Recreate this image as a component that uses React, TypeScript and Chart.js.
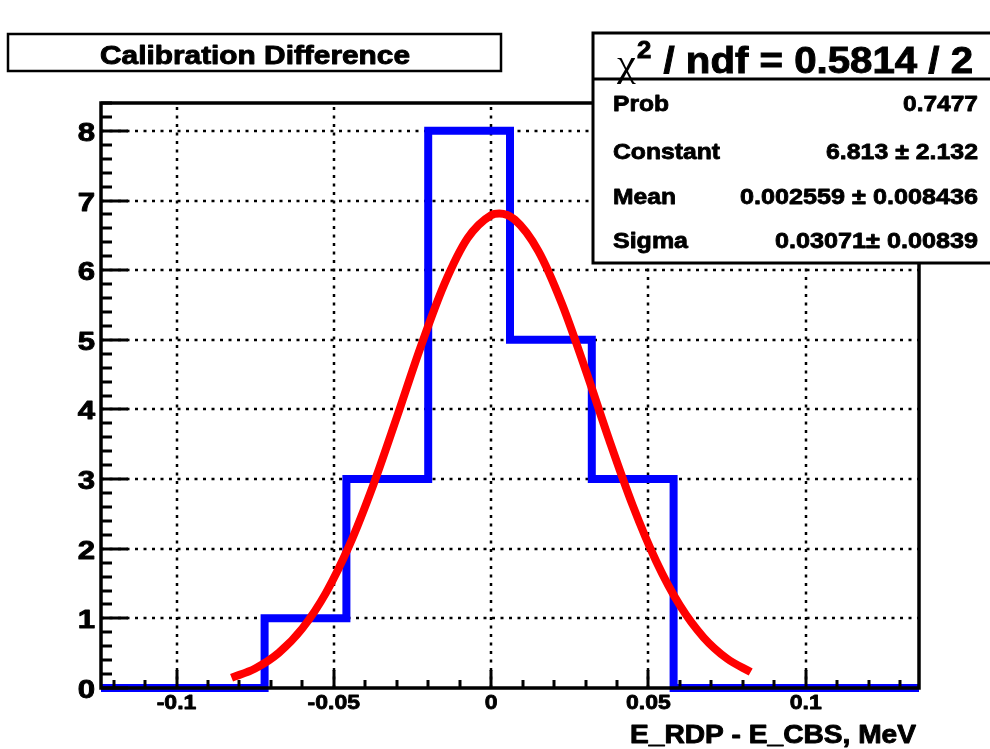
import React, { useEffect, useRef } from "react";
import { Chart, registerables } from "chart.js";

Chart.register(...registerables);

// ---- data ----
const BIN_EDGES = [-0.124, -0.098, -0.072, -0.046, -0.02, 0.006, 0.032, 0.058, 0.084, 0.11, 0.136];
const BIN_COUNTS = [0, 0, 1, 3, 8, 5, 3, 0, 0, 0];

const FIT_X = [
  -0.0825, -0.075, -0.0675, -0.06, -0.0525, -0.045, -0.0375, -0.03, -0.0225, -0.015, -0.0075, 0,
  0.0026, 0.0075, 0.015, 0.0225, 0.03, 0.0375, 0.045, 0.0525, 0.06, 0.0675, 0.075, 0.0825,
];
const FIT_Y = [
  0.147, 0.281, 0.505, 0.856, 1.366, 2.054, 2.91, 3.884, 4.884, 5.785, 6.457, 6.789,
  6.813, 6.725, 6.276, 5.518, 4.571, 3.566, 2.622, 1.816, 1.185, 0.728, 0.422, 0.23,
];

const X_MIN = -0.124;
const X_MAX = 0.136;
const Y_MIN = 0;
const Y_MAX = 8.4;

const X_TICKS = [-0.1, -0.05, 0, 0.05, 0.1];
const X_TICK_LABELS = ["-0.1", "-0.05", "0", "0.05", "0.1"];
const Y_TICKS = [0, 1, 2, 3, 4, 5, 6, 7, 8];
const Y_TICK_LABELS = ["0", "1", "2", "3", "4", "5", "6", "7", "8"];

const TITLE = "Calibration Difference";
const X_TITLE = "E_RDP - E_CBS, MeV";
const CHI2_SUP = "2";
const CHI2_REST = " / ndf = 0.5814 / 2";
const STAT_NAMES = ["Prob", "Constant", "Mean", "Sigma"];
const STAT_VALUES = ["0.7477", "6.813 \u00b1 2.132", "0.002559 \u00b1 0.008436", "0.03071\u00b1 0.00839"];

// ---- text helpers ----
const SANS = '"Liberation Sans", Arial, Helvetica, sans-serif';

function textWidth(ctx: CanvasRenderingContext2D, text: string, font: string) {
  ctx.save();
  ctx.font = font;
  const w = ctx.measureText(text).width;
  ctx.restore();
  return w;
}

function drawStretched(
  ctx: CanvasRenderingContext2D,
  text: string,
  x: number,
  baseline: number,
  size: number,
  sx: number,
  align: "left" | "center" | "right",
  weight = 0.7
) {
  const font = `bold ${size}px ${SANS}`;
  const w = textWidth(ctx, text, font) * sx;
  const left = align === "left" ? x : align === "center" ? x - w / 2 : x - w;
  ctx.save();
  ctx.font = font;
  ctx.fillStyle = "#000";
  ctx.strokeStyle = "#000";
  ctx.lineWidth = weight;
  ctx.lineJoin = "round";
  ctx.textAlign = "left";
  ctx.textBaseline = "alphabetic";
  ctx.translate(left, baseline);
  ctx.scale(sx, 1);
  ctx.fillText(text, 0, 0);
  if (weight > 0) ctx.strokeText(text, 0, 0);
  ctx.restore();
}

function fitText(
  ctx: CanvasRenderingContext2D,
  text: string,
  left: number,
  right: number,
  baseline: number,
  size: number,
  weight = 0.7
) {
  const font = `bold ${size}px ${SANS}`;
  const w = textWidth(ctx, text, font);
  const sx = (right - left) / w;
  drawStretched(ctx, text, left, baseline, size, sx, "left", weight);
}

// ---- ROOT style plugin ----
const rootPlugin = {
  id: "rootStyle",
  beforeDraw(chart: any) {
    const ctx = chart.ctx as CanvasRenderingContext2D;
    ctx.save();
    ctx.fillStyle = "#fff";
    ctx.fillRect(0, 0, chart.width, chart.height);
    ctx.restore();
  },
  beforeDatasetsDraw(chart: any) {
    const ctx = chart.ctx as CanvasRenderingContext2D;
    const { left, right, top, bottom } = chart.chartArea;
    const xs = chart.scales.x;
    const ys = chart.scales.y;
    ctx.save();
    ctx.strokeStyle = "#000";
    ctx.lineWidth = 2.5;
    ctx.setLineDash([3, 5.5]);
    for (const v of Y_TICKS) {
      if (v === 0) continue;
      const y = Math.round(ys.getPixelForValue(v));
      ctx.beginPath();
      ctx.moveTo(left, y);
      ctx.lineTo(right, y);
      ctx.stroke();
    }
    for (const v of X_TICKS) {
      const x = Math.round(xs.getPixelForValue(v));
      ctx.beginPath();
      ctx.moveTo(x, bottom);
      ctx.lineTo(x, top);
      ctx.stroke();
    }
    ctx.restore();
  },
  afterDatasetsDraw(chart: any) {
    const ctx = chart.ctx as CanvasRenderingContext2D;
    const { left, right, top, bottom } = chart.chartArea;
    const xs = chart.scales.x;
    const ys = chart.scales.y;
    ctx.save();
    ctx.strokeStyle = "#000";
    ctx.lineWidth = 3.5;
    ctx.setLineDash([]);
    // frame
    ctx.strokeRect(left, top, right - left, bottom - top);
    // y ticks (inside)
    ctx.lineWidth = 3;
    for (let i = 0; i <= 42; i++) {
      const v = i * 0.2;
      if (v > Y_MAX + 1e-9) break;
      const y = Math.round(ys.getPixelForValue(v));
      const len = i % 5 === 0 ? 27 : 11;
      ctx.beginPath();
      ctx.moveTo(left, y);
      ctx.lineTo(left + len, y);
      ctx.stroke();
    }
    // x ticks (inside)
    for (let i = -12; i <= 13; i++) {
      const v = i * 0.01;
      const x = Math.round(xs.getPixelForValue(v));
      const len = i % 5 === 0 ? 18 : 8;
      ctx.beginPath();
      ctx.moveTo(x, bottom);
      ctx.lineTo(x, bottom - len);
      ctx.stroke();
    }
    ctx.restore();

    // tick labels
    Y_TICKS.forEach((v, i) => {
      const y = ys.getPixelForValue(v);
      drawStretched(ctx, Y_TICK_LABELS[i], 95, y + 10, 26, 1.2, "right", 0.9);
    });
    X_TICKS.forEach((v, i) => {
      const x = xs.getPixelForValue(v);
      drawStretched(ctx, X_TICK_LABELS[i], x, 709, 20, 1.15, "center", 0.8);
    });
    // axis title
    fitText(ctx, X_TITLE, 630, 916, 743, 26, 0.9);
  },
  afterDraw(chart: any) {
    const ctx = chart.ctx as CanvasRenderingContext2D;
    // title box
    ctx.save();
    ctx.fillStyle = "#fff";
    ctx.fillRect(8, 34, 493, 37);
    ctx.strokeStyle = "#000";
    ctx.lineWidth = 2.5;
    ctx.strokeRect(8, 34, 493, 37);
    ctx.restore();
    fitText(ctx, TITLE, 100, 410, 64, 25, 0.9);

    // stats box
    ctx.save();
    ctx.fillStyle = "#fff";
    ctx.fillRect(593, 33, 420, 230);
    ctx.strokeStyle = "#000";
    ctx.lineWidth = 3;
    ctx.strokeRect(593, 33, 420, 230);
    ctx.beginPath();
    ctx.moveTo(593, 79);
    ctx.lineTo(1000, 79);
    ctx.stroke();
    ctx.restore();

    // chi2 header
    const chiFont = `38px "Liberation Serif", "DejaVu Serif", serif`;
    const supFont = `bold 23px ${SANS}`;
    const restFont = `bold 36px ${SANS}`;
    const wChi = textWidth(ctx, "\u03c7", chiFont);
    const wSup = textWidth(ctx, CHI2_SUP, supFont);
    const wRest = textWidth(ctx, CHI2_REST, restFont);
    const total = wChi + wSup + 2 + wRest;
    const sx = (973 - 617) / total;
    ctx.save();
    ctx.fillStyle = "#000";
    ctx.strokeStyle = "#000";
    ctx.lineWidth = 0.9;
    ctx.textBaseline = "alphabetic";
    ctx.textAlign = "left";
    ctx.translate(617, 73);
    ctx.scale(sx, 1);
    ctx.font = chiFont;
    ctx.fillText("\u03c7", 0, 3);
    ctx.font = supFont;
    ctx.fillText(CHI2_SUP, wChi + 1, -15);
    ctx.strokeText(CHI2_SUP, wChi + 1, -15);
    ctx.font = restFont;
    ctx.fillText(CHI2_REST, wChi + wSup + 2, 0);
    ctx.strokeText(CHI2_REST, wChi + wSup + 2, 0);
    ctx.restore();

    const baselines = [111, 159, 204, 248];
    const nameRight = [669, 720, 676, 688];
    const valLeft = [903, 826, 740, 775];
    STAT_NAMES.forEach((n, i) => fitText(ctx, n, 613, nameRight[i], baselines[i], 22, 0.8));
    STAT_VALUES.forEach((v, i) => fitText(ctx, v, valLeft[i], 978, baselines[i], 22, 0.8));
  },
};

export default function App() {
  const canvasRef = useRef<HTMLCanvasElement | null>(null);

  useEffect(() => {
    const canvas = canvasRef.current;
    if (!canvas) return;
    const histData = BIN_EDGES.map((x, i) => ({
      x,
      y: i < BIN_COUNTS.length ? BIN_COUNTS[i] : BIN_COUNTS[BIN_COUNTS.length - 1],
    }));
    const fitData = FIT_X.map((x, i) => ({ x, y: FIT_Y[i] }));

    const chart = new Chart(canvas, {
      type: "line",
      data: {
        datasets: [
          {
            label: "gaus fit",
            data: fitData,
            borderColor: "#ff0000",
            borderWidth: 8,
            pointRadius: 0,
            fill: false,
            cubicInterpolationMode: "monotone",
            borderCapStyle: "butt",
            clip: false as any,
          },
          {
            label: "histogram",
            data: histData,
            borderColor: "#0000ff",
            borderWidth: 8,
            pointRadius: 0,
            fill: false,
            stepped: "before",
            borderJoinStyle: "miter",
            borderCapStyle: "butt",
            clip: false as any,
          },
        ],
      },
      options: {
        animation: false,
        responsive: false,
        devicePixelRatio: 1,
        events: [],
        layout: { padding: { left: 101, top: 103, right: 71, bottom: 61 } },
        plugins: {
          legend: { display: false },
          tooltip: { enabled: false },
          title: { display: false },
        },
        scales: {
          x: { type: "linear", min: X_MIN, max: X_MAX, display: false },
          y: { type: "linear", min: Y_MIN, max: Y_MAX, display: false },
        },
      },
      plugins: [rootPlugin as any],
    });
    return () => chart.destroy();
  }, []);

  return (
    <div style={{ position: "absolute", left: 0, top: 0, width: 990, height: 749, background: "#fff" }}>
      <canvas ref={canvasRef} width={990} height={749} style={{ display: "block", width: 990, height: 749 }} />
    </div>
  );
}
